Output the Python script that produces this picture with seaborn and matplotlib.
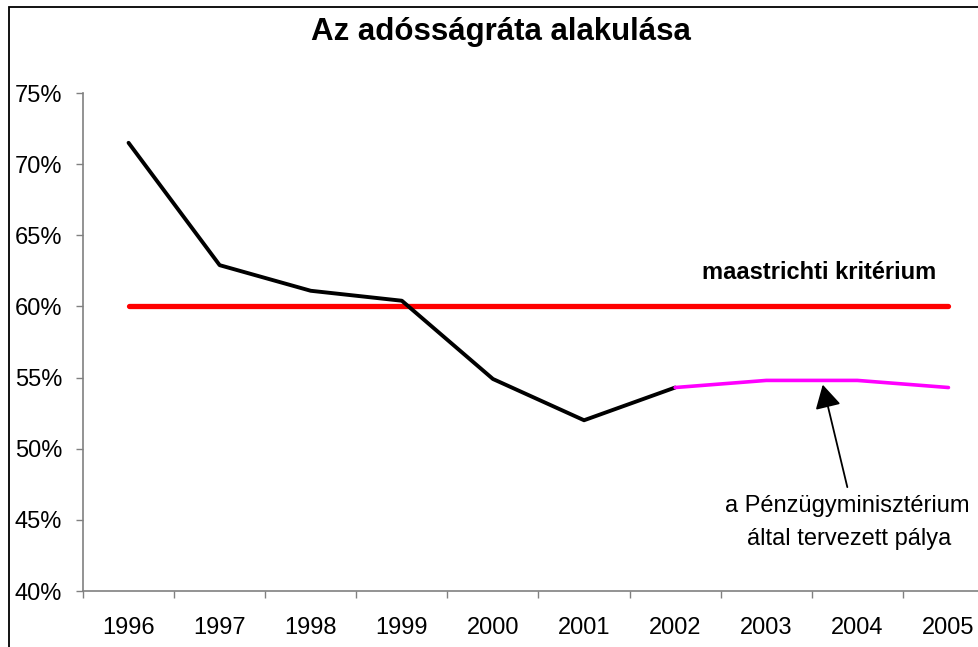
import matplotlib
matplotlib.use("Agg")
import matplotlib.pyplot as plt
import matplotlib.patches as mpatches
from matplotlib.ticker import FixedLocator, FuncFormatter
import seaborn as sns
import pandas as pd

sns.set_theme(style="white")
plt.rcParams['font.family'] = ['Liberation Sans', 'DejaVu Sans']
plt.rcParams['text.color'] = 'black'
plt.rcParams['xtick.color'] = 'black'
plt.rcParams['ytick.color'] = 'black'

years = ["1996", "1997", "1998", "1999", "2000", "2001", "2002", "2003", "2004", "2005"]
actual = [71.5, 62.9, 61.1, 60.4, 54.9, 52.0, 54.3]          # 1996-2002
planned = [54.3, 54.8, 54.8, 54.3]                            # 2002-2005
criterion = [60, 60, 60, 60, 60, 60, 60, 60, 60, 60]
yticks = [40, 45, 50, 55, 60, 65, 70, 75]

W, H = 979, 647
fig = plt.figure(figsize=(W / 100, H / 100), dpi=100)
ax = fig.add_axes([83 / W, 1 - 591 / H, 911 / W, 498 / H])

idx = list(range(len(years)))
df_crit = pd.DataFrame({"x": idx, "y": criterion})
df_act = pd.DataFrame({"x": idx[:len(actual)], "y": actual})
df_plan = pd.DataFrame({"x": idx[len(actual) - 1:], "y": planned})

sns.lineplot(data=df_crit, x="x", y="y", ax=ax, color="#FF0000", linewidth=3.8,
             solid_capstyle="round")
sns.lineplot(data=df_act, x="x", y="y", ax=ax, color="black", linewidth=2.8)
sns.lineplot(data=df_plan, x="x", y="y", ax=ax, color="#FF00FF", linewidth=2.6)

ax.set_xlim(-0.5, len(years) - 0.5)
ax.set_ylim(40, 75)
ax.set_xlabel("")
ax.set_ylabel("")

ax.set_xticks(idx)
ax.set_xticklabels(years)
ax.xaxis.set_minor_locator(FixedLocator([i - 0.5 for i in range(len(years) + 1)]))
ax.tick_params(axis="x", which="major", length=0, pad=19, labelsize=17, labelcolor="black")
ax.tick_params(axis="x", which="minor", length=5, width=1, color="#808080", direction="out", bottom=True)

ax.set_yticks(yticks)
ax.yaxis.set_major_formatter(FuncFormatter(lambda v, p: f"{int(v)}%"))
ax.tick_params(axis="y", which="major", length=5, width=1, color="#808080", pad=10,
               labelsize=17, labelcolor="black", left=True)

for s in ["top", "right"]:
    ax.spines[s].set_visible(False)
for s in ["left", "bottom"]:
    ax.spines[s].set_color("#808080")
    ax.spines[s].set_linewidth(1.2)
ax.grid(False)

fig.text(501 / W, 1 - 40 / H, "Az adósságráta alakulása", ha="center", va="baseline",
         fontsize=22.5, fontweight="bold")

ax.text(7.58, 61.93, "maastrichti kritérium", ha="center", va="baseline",
        fontsize=17, fontweight="bold")

ax.annotate("", xy=(7.62, 54.5), xytext=(7.89, 47.3),
            arrowprops=dict(arrowstyle="-|>,head_length=0.9,head_width=0.5", color="black",
                            lw=1.3, mutation_scale=16, shrinkA=0, shrinkB=0))
ax.text(7.89, 45.55, "a Pénzügyminisztérium", ha="center", va="baseline", fontsize=17)
ax.text(7.91, 43.23, "által tervezett pálya", ha="center", va="baseline", fontsize=17)

fig.add_artist(mpatches.Rectangle((9 / W, -0.1), 1.2, 1 - 7 / H + 0.1,
                                  transform=fig.transFigure, fill=False,
                                  edgecolor="black", linewidth=1.3))

fig.savefig("out.png", dpi=100)
